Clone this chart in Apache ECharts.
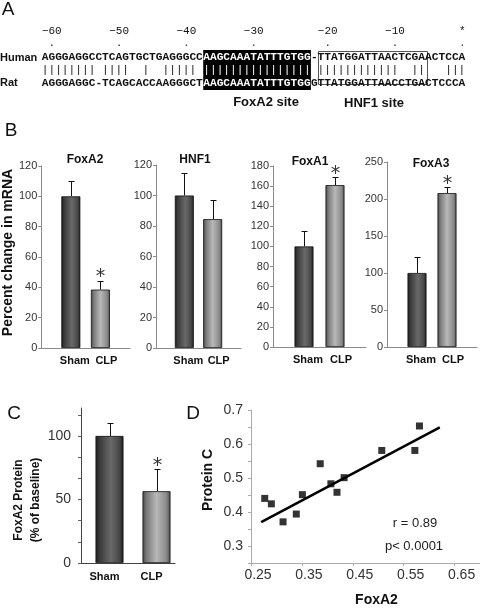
<!DOCTYPE html>
<html><head><meta charset="utf-8">
<script src="https://cdn.jsdelivr.net/npm/echarts@6/dist/echarts.min.js"></script>
<style>html,body{margin:0;padding:0;background:#fff}#c{width:480px;height:609px}</style>
</head><body><div id="c"></div>
<script>
// ---------- DATA ----------
const humanSeq = 'AGGGAGGCCTCAGTGCTGAGGGCCAAGCAAATATTTGTGG-TTATGGATTAACTCGAACTCCA';
const ratSeq   = 'AGGGAGGC-TCAGCACCAAGGGCTAAGCAAATATTTGTGGGTTATGGATTAACCTGACTCCCA';
const rulerLabels = ['\u221260','\u221250','\u221240','\u221230','\u221220','\u221210','*'];
const rulerIndex = [1, 11, 21, 31, 42, 52, 62];
const foxa2SiteRange = [24, 40];
const hnf1SiteRange = [41, 57];
const siteLabels = ['FoxA2 site', 'HNF1 site'];

const groups = ['Sham', 'CLP'];
const bCategories = ['', 'Sham', 'CLP', ''];
const bTitles = ['FoxA2', 'HNF1', 'FoxA1', 'FoxA3'];
const foxA2mRNA = [100, 38.5], foxA2mRNAErr = [10, 6], foxA2Sig = [0, 1];
const hnf1mRNA = [100, 84.5], hnf1mRNAErr = [15, 12.5], hnf1Sig = [0, 0];
const foxA1mRNA = [100, 161], foxA1mRNAErr = [15, 8], foxA1Sig = [0, 1];
const foxA3mRNA = [100, 208], foxA3mRNAErr = [22, 8], foxA3Sig = [0, 1];
const bMax = [120, 120, 180, 250];
const bInterval = [20, 20, 20, 50];

const cProtein = [100, 56.5], cProteinErr = [10, 17.5], cSig = [0, 1];
const cTicks = [0, 16.67, 33.33, 50, 66.67, 83.33, 100, 116.67];
const cLabels = [0, 50, 100];

const dFoxA2 =    [0.277, 0.290, 0.313, 0.339, 0.351, 0.386, 0.407, 0.419, 0.433, 0.507, 0.572, 0.581];
const dProteinC = [0.440, 0.424, 0.371, 0.394, 0.451, 0.542, 0.483, 0.458, 0.501, 0.581, 0.581, 0.653];
const trendX = [0.27, 0.621];
const trendY = [0.37, 0.649];
const dXTicks = [0.25, 0.35, 0.45, 0.55, 0.65];
const dYTicks = [0.25, 0.3, 0.35, 0.4, 0.45, 0.5, 0.55, 0.6, 0.65, 0.7];
const dYLabels = [0.3, 0.4, 0.5, 0.6, 0.7];
const statsText = ['r = 0.89', 'p< 0.0001'];

// ---------- STYLE / LAYOUT ----------
const SANS = '"Liberation Sans", Arial, sans-serif';
const MONO = '"Liberation Mono", "Courier New", monospace';
const F = (size, weight, color) => ({fontSize:size, fontWeight:weight || 'normal', fontFamily:SANS, color: color || '#222'});
const seqX0 = 41.7, cw = 6.73;
const shamFill = {type:'linear',x:0,y:0,x2:1,y2:0,colorStops:[
  {offset:0,color:'#1c1c1c'},{offset:0.15,color:'#3a3a3a'},{offset:0.55,color:'#6a6a6a'},{offset:0.85,color:'#484848'},{offset:1,color:'#1c1c1c'}]};
const clpFill = {type:'linear',x:0,y:0,x2:1,y2:0,colorStops:[
  {offset:0,color:'#484848'},{offset:0.15,color:'#7a7a7a'},{offset:0.5,color:'#b8b8b8'},{offset:0.85,color:'#8a8a8a'},{offset:1,color:'#484848'}]};
const fills = [shamFill, clpFill];

const bLayout = [
  {grid:{left:39, top:166, width:91, height:182}, title:[85,161]},
  {grid:{left:156, top:165, width:85, height:183}, title:[195,161]},
  {grid:{left:273, top:166, width:93, height:181}, title:[310,163]},
  {grid:{left:387, top:162, width:90, height:185}, title:[431,165]}
];
const bData = [
  [foxA2mRNA, foxA2mRNAErr, foxA2Sig],
  [hnf1mRNA, hnf1mRNAErr, hnf1Sig],
  [foxA1mRNA, foxA1mRNAErr, foxA1Sig],
  [foxA3mRNA, foxA3mRNAErr, foxA3Sig]
];

function errRender(shift) {
  return function (params, api) {
    const v = api.value(1), e = api.value(2), s = api.value(3);
    const base = api.coord([api.value(0), v]);
    const top = api.coord([api.value(0), v + e]);
    const x = Math.round(base[0] + shift) + 0.5;
    const ty = Math.round(top[1]) + 0.5;
    const ch = [
      {type:'line', shape:{x1:x, y1:base[1], x2:x, y2:ty}, style:{stroke:'#111', lineWidth:1}},
      {type:'line', shape:{x1:x-3, y1:ty, x2:x+3, y2:ty}, style:{stroke:'#111', lineWidth:1}}
    ];
    if (s) ch.push({type:'text', x:x, y:top[1]-3, style:{text:'*', font:'normal 19px "DejaVu Sans"', fill:'#333', textAlign:'center', textVerticalAlign:'middle'}});
    return {type:'group', children:ch};
  };
}

const grid = [], xAxis = [], yAxis = [], series = [], title = [];
const bLabelFmt = v => v === 'Sham' ? '{s|Sham}' : (v === 'CLP' ? '{c|CLP}' : '');
bLayout.forEach((L, i) => {
  grid.push(L.grid);
  xAxis.push({type:'category', gridIndex:i, data:bCategories, boundaryGap:false,
    axisLine:{lineStyle:{color:'#8a8a8a'}}, axisTick:{show:false},
    axisLabel:{interval:0, margin:7, formatter:bLabelFmt,
      rich:{s:Object.assign(F(11,'bold','#111'), {padding:[0,0,0,8]}),
            c:Object.assign(F(11,'bold','#111'), {padding:[0,0,0,12]})}}});
  const y = {type:'value', gridIndex:i, min:0, max:bMax[i], interval:bInterval[i],
    splitLine:{show:false},
    axisLine:{show:true, lineStyle:{color:'#8a8a8a'}},
    axisTick:{show:true, length:3, lineStyle:{color:'#8a8a8a'}},
    axisLabel:Object.assign({margin:4}, F(11,'normal','#333'))};
  if (i === 0) {
    y.name = 'Percent change in mRNA'; y.nameLocation = 'middle'; y.nameGap = 17;
    y.nameTextStyle = Object.assign(F(14,'bold','#111'), {padding:[0,0,0,9]});
  }
  yAxis.push(y);
  const [vals, errs, sig] = bData[i];
  series.push({type:'bar', xAxisIndex:i, yAxisIndex:i, barWidth:19, animation:false,
    data: groups.map((g, k) => ({value:[g, vals[k]], itemStyle:{color:fills[k], borderColor:'#111', borderWidth:0.8}}))});
  series.push({type:'custom', xAxisIndex:i, yAxisIndex:i, clip:false, animation:false, renderItem:errRender(0),
    encode:{x:0, y:1}, data: groups.map((g, k) => [g, vals[k], errs[k], sig[k]])});
  title.push({text:bTitles[i], left:L.title[0], top:L.title[1]-7, textAlign:'center', padding:0,
    textStyle:F(12,'bold','#111')});
});

// Panel C
grid.push({left:81, top:408, width:94, height:155});
xAxis.push({type:'category', gridIndex:4, data:groups, boundaryGap:true,
  axisLine:{lineStyle:{color:'#444'}}, axisTick:{show:false},
  axisLabel:Object.assign({interval:0, margin:8}, F(11,'bold','#111'))});
yAxis.push({type:'value', gridIndex:4, min:0, max:122, splitLine:{show:false},
  axisLine:{show:true, lineStyle:{color:'#444'}},
  axisTick:{show:true, length:3, customValues:cTicks, lineStyle:{color:'#666'}},
  axisLabel:Object.assign({customValues:cLabels, margin:10}, F(14,'normal','#333')),
  name:'FoxA2 Protein\n(% of baseline)', nameLocation:'middle', nameGap:28,
  nameTextStyle:Object.assign(F(12,'bold','#111'), {lineHeight:17, padding:[0,29,0,0]})});
series.push({type:'bar', xAxisIndex:4, yAxisIndex:4, barWidth:10, barGap:'0%', data:['-','-'], silent:true});
series.push({type:'bar', xAxisIndex:4, yAxisIndex:4, barWidth:28, barGap:'0%', animation:false,
  data: groups.map((g, k) => ({value:cProtein[k], itemStyle:{color:fills[k], borderColor:'#111', borderWidth:0.8}}))});
series.push({type:'custom', xAxisIndex:4, yAxisIndex:4, clip:false, animation:false, renderItem:errRender(5),
  encode:{x:0, y:1}, data: groups.map((g, k) => [g, cProtein[k], cProteinErr[k], cSig[k]])});

// Panel D
grid.push({left:251, top:410, width:229, height:153});
xAxis.push({type:'value', gridIndex:5, min:0.25, max:0.7, splitLine:{show:false},
  axisLine:{lineStyle:{color:'#aaa'}},
  axisTick:{show:true, length:3, customValues:dXTicks, lineStyle:{color:'#aaa'}},
  axisLabel:Object.assign({customValues:dXTicks, formatter:v => v.toFixed(2), margin:5, padding:[0,0,0,14]}, F(14,'normal','#333')),
  name:'FoxA2', nameLocation:'middle', nameGap:30,
  nameTextStyle:Object.assign(F(14,'bold','#111'), {padding:[0,0,0,22]})});
yAxis.push({type:'value', gridIndex:5, min:0.25, max:0.7, splitLine:{show:false},
  axisLine:{show:true, lineStyle:{color:'#aaa'}},
  axisTick:{show:true, length:3, customValues:dYTicks, lineStyle:{color:'#aaa'}},
  axisLabel:Object.assign({customValues:dYLabels, formatter:v => v.toFixed(1), margin:8}, F(14,'normal','#333')),
  name:'Protein C', nameLocation:'middle', nameGap:36,
  nameTextStyle:Object.assign(F(14,'bold','#111'), {padding:[0,0,0,13]})});
series.push({type:'scatter', xAxisIndex:5, yAxisIndex:5, symbol:'rect', symbolSize:7, animation:false,
  itemStyle:{color:'#000'}, data: dFoxA2.map((x, k) => [x, dProteinC[k]])});
series.push({type:'line', xAxisIndex:5, yAxisIndex:5, symbol:'none', animation:false,
  lineStyle:{color:'#000', width:2.5}, data: trendX.map((x, k) => [x, trendY[k]])});

// ---------- Panel A graphics ----------
const g = [];
const cx = i => seqX0 + cw * (i + 0.5);
function seqSegments(str, y, bold) {
  const parts = [[0, foxa2SiteRange[0], '#111'], [foxa2SiteRange[0], foxa2SiteRange[1], '#fff'], [foxa2SiteRange[1], str.length, '#111']];
  parts.forEach(([a, b, col]) => {
    g.push({type:'text', x: seqX0 + cw * a, y: y, style:{text: str.slice(a, b), font:(bold?'bold ':'') + '11.2px ' + MONO, fill: col, textAlign:'left', textVerticalAlign:'middle'}});
  });
}
g.push({type:'rect', shape:{x: seqX0 + cw*foxa2SiteRange[0], y:50, width: cw*(foxa2SiteRange[1]-foxa2SiteRange[0]), height:40}, style:{fill:'#000'}});
g.push({type:'rect', shape:{x: Math.round(seqX0 + cw*hnf1SiteRange[0])+0.5, y:51.5, width: Math.round(cw*(hnf1SiteRange[1]-hnf1SiteRange[0]))+1, height:33}, style:{fill:'none', stroke:'#555', lineWidth:1}});
rulerLabels.forEach((t, k) => {
  g.push({type:'text', x: cx(rulerIndex[k]), y:31, style:{text:t, font:'11px ' + MONO, fill:'#111', textAlign:'center', textVerticalAlign:'middle'}});
  g.push({type:'rect', shape:{x: cx(rulerIndex[k]) - 0.7, y:44.5, width:1.4, height:1.4}, style:{fill:'#333'}});
});
let match = '';
for (let i = 0; i < humanSeq.length; i++) match += (humanSeq[i] === ratSeq[i] && humanSeq[i] !== '-') ? '|' : ' ';
seqSegments(humanSeq, 57.5, true);
seqSegments(match, 70.5, false);
seqSegments(ratSeq, 83, true);
g.push({type:'text', x:0, y:57.5, style:{text:'Human', font:'bold 11px ' + SANS, fill:'#111', textAlign:'left', textVerticalAlign:'middle'}});
g.push({type:'text', x:0, y:83, style:{text:'Rat', font:'bold 11px ' + SANS, fill:'#111', textAlign:'left', textVerticalAlign:'middle'}});
g.push({type:'text', x:266, y:102, style:{text:siteLabels[0], font:'bold 13px ' + SANS, fill:'#111', textAlign:'center', textVerticalAlign:'middle'}});
g.push({type:'text', x:374, y:103, style:{text:siteLabels[1], font:'bold 13px ' + SANS, fill:'#111', textAlign:'center', textVerticalAlign:'middle'}});
[['A',8,10],['B',11,131],['C',14,414],['D',193,414]].forEach(([t,x,y]) => {
  g.push({type:'text', x:x, y:y, style:{text:t, font:'19px ' + SANS, fill:'#111', textAlign:'center', textVerticalAlign:'middle'}});
});
g.push({type:'text', x:415, y:523, style:{text:statsText[0], font:'13px ' + SANS, fill:'#222', textAlign:'center', textVerticalAlign:'middle'}});
g.push({type:'text', x:414, y:546, style:{text:statsText[1], font:'13px ' + SANS, fill:'#222', textAlign:'center', textVerticalAlign:'middle'}});

const chart = echarts.init(document.getElementById('c'), null, {renderer:'canvas'});
chart.setOption({backgroundColor:'#fff', animation:false, title, grid, xAxis, yAxis, series, graphic:{elements:g}});
</script></body></html>
